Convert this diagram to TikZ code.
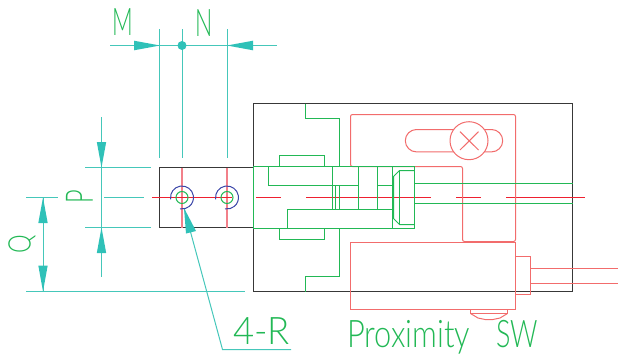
\documentclass[tikz,border=0pt]{standalone}
\usepackage{fontspec}
\newfontfamily\cadfont{Lato Light}
\definecolor{teal1}{HTML}{45C7BA}
\definecolor{tealfill}{HTML}{2FC1B8}
\definecolor{grn}{HTML}{22B855}
\definecolor{sal}{HTML}{F26C6C}
\definecolor{rd}{HTML}{EE2030}
\definecolor{pnk}{HTML}{F2808A}
\definecolor{blu}{HTML}{3A45A8}
\definecolor{blk}{HTML}{383838}
\tikzset{
  dimline/.style={draw=teal1,line width=1pt},
  headfill/.style={fill=tealfill,draw=none},
  grnline/.style={draw=grn,line width=1pt},
  salline/.style={draw=sal,line width=1pt},
  redline/.style={draw=rd,line width=1pt},
  pinkline/.style={draw=pnk,line width=1.6pt},
  bluline/.style={draw=blu,line width=1pt},
  blkline/.style={draw=blk,line width=1pt},
  cadtext/.style={text=grn,inner sep=0pt,font=\cadfont\fontsize{38}{38}\selectfont,transform shape},
}
\begin{document}
\begin{tikzpicture}[x=1pt,y=-1pt]
\useasboundingbox (0,0) rectangle (618,356);
% black outlines
\draw[blkline] (253.5,103.5) rectangle (572.5,291.5);
\draw[blkline] (253.5,167.5) -- (159.5,167.5) -- (159.5,227.5) -- (253.5,227.5);
% dimension lines
\draw[dimline] (159.5,29) -- (159.5,158);
\draw[dimline] (182,29) -- (182,158);
\draw[dimline] (227,29) -- (227,158);
\draw[dimline] (110,45.5) -- (277,45.5);
\fill[headfill] (160,45.5) -- (134,40.7) -- (134,50.3) -- cycle;
\fill[headfill] (227,45.5) -- (253,40.7) -- (253,50.3) -- cycle;
\fill[tealfill] (182,45.5) circle (4.5pt);
\draw[dimline] (85,167.5) -- (151,167.5);
\draw[dimline] (85,227.5) -- (151,227.5);
\draw[dimline] (104,197.5) -- (144,197.5);
\draw[dimline] (101.5,117) -- (101.5,277);
\fill[headfill] (101.5,167.5) -- (96.8,142) -- (106.2,142) -- cycle;
\fill[headfill] (101.5,227.5) -- (96.8,253) -- (106.2,253) -- cycle;
\draw[dimline] (26,197.5) -- (58,197.5);
\draw[dimline] (26,291.5) -- (245,291.5);
\draw[dimline] (43,197.5) -- (43,291.5);
\fill[headfill] (43,197.5) -- (38.3,223) -- (47.7,223) -- cycle;
\fill[headfill] (43,291.5) -- (38.3,265.5) -- (47.7,265.5) -- cycle;
% leader
\draw[dimline] (184,208) -- (222.5,349.5) -- (291,349.5);
\fill[headfill] (184,208) -- (186,233.5) -- (196,231) -- cycle;
% hole centres
\draw[pinkline] (182,167.5) -- (182,227.5);
\draw[pinkline] (227,167.5) -- (227,227.5);
\draw[redline] (152,197.5) -- (232,197.5);
\draw[redline] (256,197.5) -- (281,197.5);
\draw[redline] (306,197.5) -- (431,197.5);
\draw[redline] (456,197.5) -- (481,197.5);
\draw[redline] (506,197.5) -- (585,197.5);
\foreach \c in {182,227}{
  \draw[grnline] (\c,197.5) circle (6pt);
  \draw[bluline] (\c,197.5) ++(189:11.5pt) arc (189:-100:11.5pt);
}
% salmon body
\draw[salline,rounded corners=2pt] (462.5,166.5) -- (350.5,166.5) -- (350.5,114.5) -- (515.5,114.5) -- (515.5,241.5) -- (462.5,241.5) -- cycle;
\draw[salline,fill=white] (416.5,129.5) -- (491.5,129.5) arc (90:-90:11.2pt) -- (416.5,151.9) arc (270:90:11.2pt) -- cycle;
\draw[salline,fill=white] (469,140.7) circle (19pt);
\draw[salline] (460,131.7) -- (478.5,150);
\draw[salline] (478.5,131.7) -- (460,150);
% sensor
\draw[salline] (350.5,242.5) rectangle (515.5,309.5);
\draw[salline] (515.5,256.5) -- (530.5,256.5) -- (530.5,294.5) -- (515.5,294.5);
\draw[salline] (530.5,268.5) -- (618,268.5);
\draw[salline] (530.5,283.5) -- (618,283.5);
\draw[salline] (470.5,309.5) -- (470.5,313.5) -- (507.5,313.5) -- (507.5,309.5);
\draw[salline] (470.5,313.5) -- (478,318) -- (485,319.5) -- (493,319.5) -- (500,318) -- (507.5,313.5);
% green mechanism
\draw[grnline] (253.5,166.5) rectangle (414.5,228.5);
\draw[grnline] (279.5,166.5) -- (279.5,155.5) -- (324.5,155.5) -- (324.5,166.5);
\draw[grnline] (279.5,228.5) -- (279.5,239.5) -- (324.5,239.5) -- (324.5,228.5);
\draw[grnline] (305.5,103.5) -- (305.5,118.5) -- (339.5,118.5) -- (339.5,166.5);
\draw[grnline] (339.5,228.5) -- (339.5,276.5) -- (305.5,276.5) -- (305.5,291.5);
\draw[grnline] (268.5,166.5) -- (268.5,185.5) -- (358.5,185.5);
\draw[grnline] (332.5,166.5) -- (332.5,209.5);
\draw[grnline] (335.5,185.5) -- (335.5,209.5);
\draw[grnline] (339.5,185.5) -- (339.5,209.5);
\draw[grnline] (358.5,166.5) -- (358.5,209.5);
\draw[grnline] (377.5,166.5) -- (377.5,209.5);
\draw[grnline] (377.5,185.5) -- (392.5,185.5);
\draw[grnline] (392.5,166.5) -- (392.5,228.5);
\draw[grnline] (287.5,228.5) -- (287.5,209.5) -- (392.5,209.5);
\draw[grnline] (414.5,170.5) -- (399.5,170.5) -- (393.5,176.5) -- (393.5,218.5) -- (399.5,224.5) -- (414.5,224.5);
\draw[grnline] (399.5,170.5) -- (399.5,224.5);
\draw[grnline] (414.5,183.5) -- (572.5,183.5);
\draw[grnline] (414.5,203.5) -- (572.5,203.5);
% labels
\node[cadtext,anchor=base west,xscale=.6] (lblM) at (112,35) {M};
\node[cadtext,anchor=base west,xscale=.6] (lblN) at (195,36) {N};
\node[cadtext,rotate=90,anchor=center,xscale=.62] (lblP) at (79.5,197) {P};
\node[cadtext,rotate=90,anchor=center,xscale=.62,yscale=.82] (lblQ) at (22,244) {Q};
\node[cadtext,anchor=base west,xscale=.96] (lblR) at (233,344) {4-R};
\node[cadtext,anchor=base west,xscale=.81] (lblS) at (347,347) {Proximity\ \ \hspace{12pt}\scalebox{.875}[1]{SW}};
\end{tikzpicture}
\end{document}
